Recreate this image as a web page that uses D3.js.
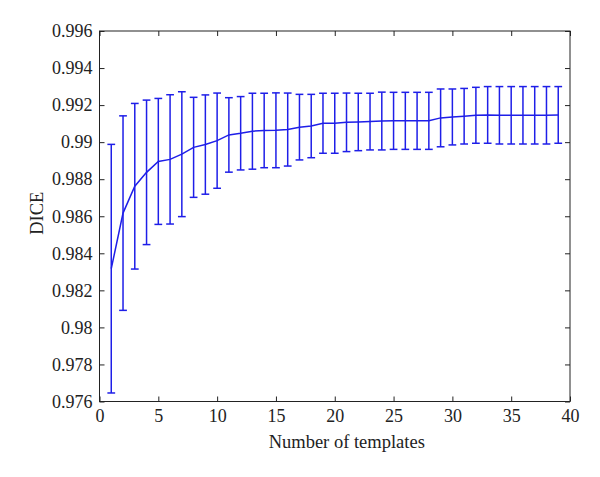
<!DOCTYPE html>
<html>
<head>
<meta charset="utf-8">
<script src="https://cdn.jsdelivr.net/npm/d3@7"></script>
<style>
  body { margin: 0; background: #fff; }
  text { font-family: "Liberation Serif", "DejaVu Serif", serif; fill: #222; }
</style>
</head>
<body>
<div id="chart"></div>
<script>
// DICE vs number of templates (mean +/- std)
var templates = d3.range(1, 40);
var diceMean = [0.98317, 0.98617, 0.98762, 0.98837, 0.98896, 0.98907, 0.98935, 0.98972, 0.98987, 0.99008,
                0.99039, 0.99048, 0.99059, 0.99063, 0.99064, 0.99068, 0.99081, 0.99087, 0.99102, 0.99102,
                0.99107, 0.99109, 0.99111, 0.99114, 0.99115, 0.99115, 0.99115, 0.99115, 0.99131, 0.99136,
                0.99140, 0.99145, 0.99147, 0.99145, 0.99145, 0.99145, 0.99145, 0.99145, 0.99147];
var diceStd = [0.00671, 0.00525, 0.00447, 0.00390, 0.00340, 0.00349, 0.00337, 0.00270, 0.00268, 0.00257,
               0.00201, 0.00198, 0.00205, 0.00201, 0.00202, 0.00197, 0.00177, 0.00171, 0.00162, 0.00162,
               0.00158, 0.00155, 0.00153, 0.00156, 0.00154, 0.00154, 0.00154, 0.00154, 0.00156, 0.00151,
               0.00150, 0.00151, 0.00153, 0.00155, 0.00155, 0.00155, 0.00155, 0.00155, 0.00153];
var xTicks = [0, 5, 10, 15, 20, 25, 30, 35, 40];
var yTicks = [0.976, 0.978, 0.98, 0.982, 0.984, 0.986, 0.988, 0.99, 0.992, 0.994, 0.996];

var svgWidth = 600;
var svgHeight = 477;
var margin = { top: 31, right: 30, bottom: 75.5, left: 99.5 };
var width = svgWidth - margin.left - margin.right;
var height = svgHeight - margin.top - margin.bottom;
var blue = "#1e1ee8";

var svg = d3.select("#chart")
    .append("svg")
    .attr("width", svgWidth)
    .attr("height", svgHeight);

var plot = svg.append("g")
    .attr("transform", `translate(${margin.left}, ${margin.top})`);

var x = d3.scaleLinear().domain([0, 40]).range([0, width]);
var y = d3.scaleLinear().domain([0.976, 0.996]).range([height, 0]);

// box
plot.append("rect")
    .attr("width", width)
    .attr("height", height)
    .attr("fill", "none")
    .attr("stroke", "#222")
    .attr("stroke-width", 1);

// axes with inward ticks, on all four sides
var fmt = d => d3.format("")(+d.toFixed(3));
var tickLen = 5;

var xAxisB = plot.append("g")
    .attr("transform", `translate(0, ${height})`)
    .call(d3.axisBottom(x).tickValues(xTicks).tickSizeInner(-tickLen).tickSizeOuter(0).tickPadding(8));
var xAxisT = plot.append("g")
    .call(d3.axisTop(x).tickValues(xTicks).tickSizeInner(-tickLen).tickSizeOuter(0).tickFormat(""));
var yAxisL = plot.append("g")
    .call(d3.axisLeft(y).tickValues(yTicks).tickFormat(fmt).tickSizeInner(-tickLen).tickSizeOuter(0).tickPadding(7));
var yAxisR = plot.append("g")
    .attr("transform", `translate(${width}, 0)`)
    .call(d3.axisRight(y).tickValues(yTicks).tickSizeInner(-tickLen).tickSizeOuter(0).tickFormat(""));

[xAxisB, xAxisT, yAxisL, yAxisR].forEach(function(a) {
    a.select(".domain").remove();
    a.selectAll("line").attr("stroke", "#222");
    a.selectAll("text")
        .attr("font-family", "Liberation Serif, DejaVu Serif, serif")
        .attr("font-size", 18)
        .attr("fill", "#222");
});

// axis labels
plot.append("text")
    .attr("transform", `translate(${width / 2 + 12}, ${height + 46})`)
    .attr("text-anchor", "middle")
    .attr("font-size", 18.5)
    .text("Number of templates");

plot.append("text")
    .attr("transform", `translate(${-margin.left + 43}, ${height / 2 - 3}) rotate(-90)`)
    .attr("text-anchor", "middle")
    .attr("font-size", 18.5)
    .text("DICE");

// error bars
var capHalf = 0.33;
var bars = plot.append("g")
    .attr("stroke", blue)
    .attr("stroke-width", 1.5)
    .attr("fill", "none");

templates.forEach(function(t, i) {
    var lo = diceMean[i] - diceStd[i];
    var hi = diceMean[i] + diceStd[i];
    bars.append("line")
        .attr("x1", x(t)).attr("x2", x(t))
        .attr("y1", y(lo)).attr("y2", y(hi));
    bars.append("line")
        .attr("x1", x(t - capHalf)).attr("x2", x(t + capHalf))
        .attr("y1", y(lo)).attr("y2", y(lo));
    bars.append("line")
        .attr("x1", x(t - capHalf)).attr("x2", x(t + capHalf))
        .attr("y1", y(hi)).attr("y2", y(hi));
});

// mean line
var line = d3.line()
    .x((d, i) => x(templates[i]))
    .y(d => y(d));

plot.append("path")
    .datum(diceMean)
    .attr("d", line)
    .attr("fill", "none")
    .attr("stroke", blue)
    .attr("stroke-width", 1.5);
</script>
</body>
</html>
